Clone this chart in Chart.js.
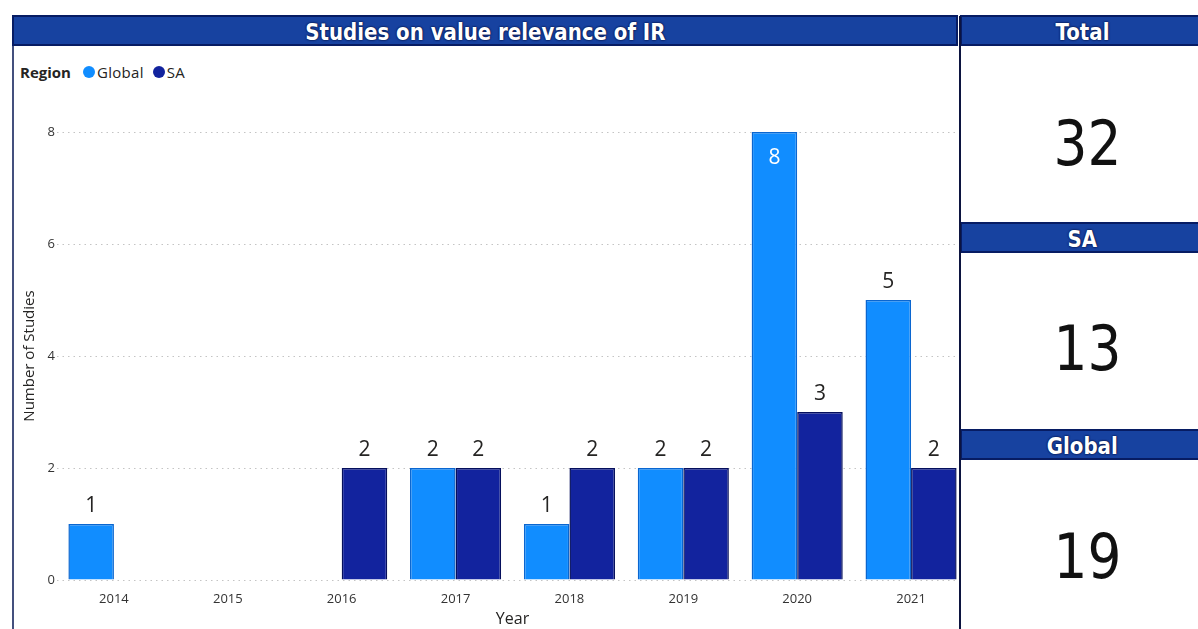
<!DOCTYPE html>
<html lang="en">
<head>
    <meta charset="UTF-8">
    <title>Studies on value relevance of IR</title>
    <script src="https://cdn.jsdelivr.net/npm/chart.js"></script>
    <style>
        body {
            margin: 0;
            width: 1198px;
            height: 629px;
            background: #fff;
            position: relative;
            overflow: hidden;
            font-family: "Open Sans", "Noto Sans", sans-serif;
        }

        .bar-head {
            position: absolute;
            height: 27px;
            background: #1742a0;
            border: 2px solid #071c63;
            color: #fff;
            text-align: center;
            font-family: "DejaVu Sans", sans-serif;
            font-weight: bold;
            font-size: 23px;
            line-height: 30px;
            text-shadow: 0 0 2px #041040, 0 0 2px #041040;
            overflow: hidden;
        }

        .bar-head span {
            display: inline-block;
            transform: scaleX(0.86);
        }

        #leftLine {
            position: absolute;
            left: 12px;
            top: 46px;
            width: 2px;
            height: 590px;
            background: #44507e;
        }

        #midLine {
            position: absolute;
            left: 959px;
            top: 16px;
            width: 2px;
            height: 620px;
            background: #0c1440;
            z-index: 2;
        }

        .card-value {
            position: absolute;
            left: 975px;
            width: 224px;
            text-align: center;
            font-family: "DejaVu Sans", sans-serif;
            font-size: 62px;
            color: #111;
        }

        .card-value span {
            display: inline-block;
            transform: scaleX(0.86);
        }

        #legend {
            position: absolute;
            left: 20px;
            top: 62px;
            font-size: 15px;
            color: #252423;
            display: flex;
            align-items: center;
        }

        #legend b { margin-right: 12px; }

        #legend .dot {
            display: inline-block;
            width: 12px;
            height: 12px;
            border-radius: 50%;
            margin-right: 2px;
        }

        #legend span.item { margin-right: 9px; display: flex; align-items: center; letter-spacing: 0.3px; }

        #chartBox {
            position: absolute;
            left: 12px;
            top: 90px;
            width: 947px;
            height: 539px;
            overflow: hidden;
        }

        #studiesChart {
            width: 956px;
            height: 539px;
        }
    </style>
</head>
<body>

<div class="bar-head" style="left:12px; top:15px; width:942px;"><span>Studies on value relevance of IR</span></div>
<div id="leftLine"></div>
<div id="midLine"></div>

<div class="bar-head" style="left:960px; top:15px; width:240px;"><span>Total</span></div>
<div class="bar-head" style="left:960px; top:222px; width:240px;"><span>SA</span></div>
<div class="bar-head" style="left:960px; top:429px; width:240px;"><span>Global</span></div>

<div class="card-value" style="top:107px;"><span id="cardTotal"></span></div>
<div class="card-value" style="top:312px;"><span id="cardSA"></span></div>
<div class="card-value" style="top:520px;"><span id="cardGlobal"></span></div>

<div id="legend"></div>

<div id="chartBox">
    <canvas id="studiesChart" width="956" height="539"></canvas>
</div>

<script>
    // data
    var years = ["2014", "2015", "2016", "2017", "2018", "2019", "2020", "2021"];
    var seriesNames = ["Global", "SA"];
    var globalStudies = [1, null, null, 2, 1, 2, 8, 5];
    var saStudies = [null, null, 2, 2, 2, 2, 3, 2];
    var yTicks = [0, 2, 4, 6, 8];

    var seriesColors = ["#118dff", "#12239e"];
    var seriesBorders = ["#0a66d0", "#050f5c"];

    function sum(arr) {
        return arr.reduce(function (a, b) { return a + (b || 0); }, 0);
    }

    document.getElementById("cardTotal").textContent = sum(globalStudies) + sum(saStudies);
    document.getElementById("cardSA").textContent = sum(saStudies);
    document.getElementById("cardGlobal").textContent = sum(globalStudies);

    // legend
    var legend = document.getElementById("legend");
    legend.innerHTML = "<b>Region</b>";
    seriesNames.forEach(function (name, i) {
        var item = document.createElement("span");
        item.className = "item";
        item.innerHTML = '<span class="dot" style="background:' + seriesColors[i] + '"></span>' + name;
        legend.appendChild(item);
    });

    // value labels above each bar, inside in white when the bar hits the top
    var valueLabels = {
        id: "valueLabels",
        afterDatasetsDraw: function (chart) {
            var ctx = chart.ctx;
            var yMax = chart.scales.y.max;
            ctx.save();
            ctx.font = "21px 'Open Sans', sans-serif";
            ctx.textAlign = "center";
            ctx.textBaseline = "middle";
            chart.data.datasets.forEach(function (ds, di) {
                chart.getDatasetMeta(di).data.forEach(function (bar, i) {
                    var v = ds.data[i];
                    if (v === null || v === undefined) return;
                    if (v >= yMax) {
                        ctx.fillStyle = "#ffffff";
                        ctx.fillText(v, bar.x, bar.y + 26);
                    } else {
                        ctx.fillStyle = "#252423";
                        ctx.fillText(v, bar.x, bar.y - 18);
                    }
                });
            });
            ctx.restore();
        }
    };

    var ctx = document.getElementById("studiesChart").getContext("2d");
    new Chart(ctx, {
        type: "bar",
        data: {
            labels: years,
            datasets: [{
                label: seriesNames[0],
                data: globalStudies,
                backgroundColor: seriesColors[0],
                borderColor: seriesBorders[0],
                borderWidth: 1.5
            }, {
                label: seriesNames[1],
                data: saStudies,
                backgroundColor: seriesColors[1],
                borderColor: seriesBorders[1],
                borderWidth: 1.5
            }]
        },
        options: {
            responsive: false,
            animation: false,
            layout: { padding: { top: 42, right: 0, left: 0, bottom: 0 } },
            datasets: {
                bar: { categoryPercentage: 0.8, barPercentage: 1.0 }
            },
            plugins: {
                legend: { display: false },
                tooltip: { enabled: false }
            },
            scales: {
                x: {
                    grid: { display: false },
                    border: { display: false },
                    ticks: {
                        color: "#333",
                        font: { family: "'Open Sans', sans-serif", size: 13 },
                        padding: 3
                    },
                    title: {
                        display: true,
                        text: "Year",
                        color: "#252423",
                        font: { family: "'Open Sans', sans-serif", size: 16, weight: 500 },
                        padding: { top: 2, bottom: 0 }
                    },
                    afterFit: function (scale) { scale.height = 49; }
                },
                y: {
                    min: 0,
                    max: 8,
                    afterBuildTicks: function (scale) {
                        scale.ticks = yTicks.map(function (v) { return { value: v }; });
                    },
                    grid: {
                        color: "#c4c4c4",
                        lineWidth: 1,
                        drawTicks: false
                    },
                    border: { display: false, dash: [1.5, 4] },
                    ticks: {
                        color: "#333",
                        font: { family: "'Open Sans', sans-serif", size: 13 },
                        padding: 2
                    },
                    title: {
                        display: true,
                        text: "Number of Studies",
                        color: "#252423",
                        font: { family: "'Open Sans', sans-serif", size: 15, weight: 500 },
                        padding: { top: 9, bottom: 0 }
                    },
                    afterFit: function (scale) { scale.width = 45; }
                }
            }
        },
        plugins: [valueLabels]
    });
</script>

</body>
</html>
